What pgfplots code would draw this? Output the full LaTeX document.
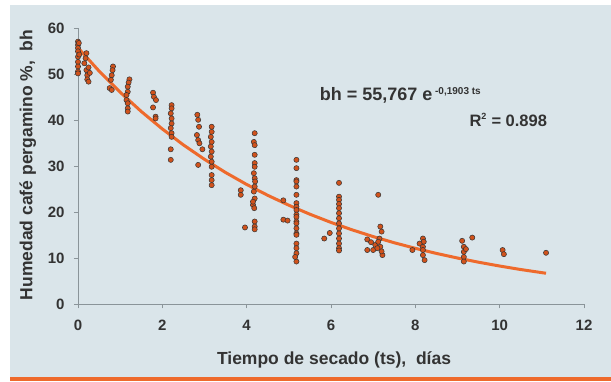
\documentclass[border=0pt]{standalone}
\usepackage{pgfplots}
\pgfplotsset{compat=1.18}
\usepackage{fontspec}
\setmainfont{Liberation Sans}
\definecolor{bgc}{HTML}{DAE5EA}
\definecolor{fitc}{HTML}{EE6A2C}
\definecolor{markc}{HTML}{D0521C}
\definecolor{txt}{HTML}{333333}
\definecolor{axc}{HTML}{8A9499}
\begin{document}
\begin{tikzpicture}[x=1pt,y=1pt]
\fill[white] (0,0) rectangle (611,381);
\fill[bgc] (10,4) rectangle (611,376);
\fill[fitc] (10,0) rectangle (611,4);
\begin{axis}[
  at={(78pt,76.7pt)}, anchor=origin,
  scale only axis, width=506pt, height=276pt,
  xmin=0, xmax=12, ymin=0, ymax=60,
  xtick={0,2,...,12}, ytick={0,10,...,60},
  axis lines*=left,
  axis line style={axc, line width=0.8pt},
  tick style={axc, line width=0.8pt},
  tick align=outside, major tick length=4pt,
  clip=false,
  /pgf/number format/assume math mode=true,
  ticklabel style={font=\fontsize{15}{17}\selectfont\bfseries, text=txt},
  xticklabel style={yshift=-8pt},
  yticklabel style={xshift=-6pt},
  xlabel={Tiempo de secado (ts),\ \ días},
  ylabel={Humedad café pergamino \%,\ \ bh},
  label style={font=\fontsize{17.5}{20}\selectfont\bfseries, text=txt},
  xlabel style={at={(rel axis cs:0.506,-0.202)}, anchor=center},
  ylabel style={at={(rel axis cs:-0.099,0.505)}, anchor=center},
]
\addplot[only marks, mark=*, mark size=2.6pt, mark options={fill=markc, draw=black!80, line width=0.5pt}] coordinates {
(0,57.1)(0,56.4)(0,55.7)(0,55)(0,53.8)(0,52.7)(0,51.7)(0,50.6)(0,50.2)(0.02,56.8)(0.03,54.3)
(0.2,54.6)(0.15,52.4)(0.2,50.9)(0.22,49.8)(0.22,48.9)(0.25,48.4)(0.18,53.5)(0.25,51.5)(0.28,50.3)
(0.83,51.7)(0.82,50.9)(0.8,49.8)(0.78,48.8)(0.75,47)(0.8,46.6)
(1.22,48.9)(1.2,48.2)(1.18,47.3)(1.18,46.2)(1.15,45.5)(1.15,44.4)(1.18,43.7)(1.18,42.6)(1.18,41.9)
(1.78,46)(1.8,45.1)(1.85,44.4)(1.78,42.8)(1.84,40.8)(1.84,40.4)
(2.22,43.3)(2.22,42.6)(2.2,41.5)(2.22,40.4)(2.22,39.3)(2.2,38.3)(2.22,37.2)(2.22,36.4)(2.2,33.7)(2.2,31.4)
(2.83,41.2)(2.85,40.1)(2.87,38.6)(2.82,36.8)(2.85,35.7)(2.88,35)(2.85,30.3)(2.95,33.7)
(3.17,38.6)(3.17,37.5)(3.15,36.4)(3.17,35.3)(3.15,34.3)(3.17,33.2)(3.15,32.1)(3.17,31)(3.17,29.9)(3.17,28.1)(3.17,27)(3.17,25.9)
(3.86,24.8)(3.86,23.8)(3.96,16.7)
(4.19,37.2)(4.17,35.3)(4.19,34.6)(4.19,32.5)(4.19,30.7)(4.19,29.9)(4.17,28.5)(4.19,27.4)(4.2,26.7)(4.19,25.6)(4.17,24.5)(4.19,23)(4.15,21.6)(4.18,20.9)(4.19,18)(4.19,16.9)(4.19,16.3)(4.15,22.3)
(4.87,22.6)(4.87,18.4)(4.97,18.2)
(5.18,31.4)(5.18,29.6)(5.18,27)(5.18,26.7)(5.18,25.6)(5.18,23.8)(5.18,22)(5.18,21.2)(5.18,20.5)(5.18,19.5)(5.18,19)(5.18,18)(5.18,17.6)(5.18,16.5)(5.18,15.4)(5.18,15.1)(5.18,13.2)(5.18,12.2)(5.18,11.1)(5.18,9.3)(5.15,10.3)
(5.84,14.3)(5.97,15.5)
(6.19,26.4)(6.19,23.4)(6.19,22.7)(6.19,21.8)(6.19,20.9)(6.19,19.8)(6.19,18.7)(6.19,17.6)(6.19,16.5)(6.19,15.4)(6.19,14.3)(6.19,13.2)(6.19,12.2)(6.19,11.7)
(6.86,14.1)(6.86,11.8)(7.0,11.8)(7.05,12.9)(6.95,13.5)
(7.12,23.8)(7.17,16.9)(7.2,15.8)(7.15,14.3)(7.12,13.6)(7.17,12.5)(7.22,10.7)(7.1,12.2)(7.2,11.5)
(7.93,11.8)(8.18,14.3)(8.2,13.6)(8.1,13.2)(8.18,12.5)(8.18,11.8)(8.18,10.7)(8.22,9.6)
(9.11,13.8)(9.35,14.5)(9.15,12.5)(9.15,11.4)(9.15,10.3)(9.15,9.3)(9.2,12)
(10.07,11.8)(10.1,10.9)
(11.1,11.2)
};
\addplot[fitc, line width=3pt] coordinates {
(0,55.77)(0.5,50.70)(1,46.10)(1.5,41.92)(2,38.12)(2.5,34.65)(3,31.51)(3.5,28.65)(4,26.05)(4.5,23.69)(5,21.54)(5.5,19.58)(6,17.80)(6.5,16.19)(7,14.72)(7.5,13.38)(8,12.17)(8.5,11.06)(9,10.06)(9.5,9.15)(10,8.32)(10.5,7.56)(11,6.88)(11.1,6.75)
};
\node[anchor=west, font=\fontsize{18}{20}\selectfont\bfseries, text=txt, inner sep=0pt] at (axis cs:5.73,45.4) {bh = 55,767 e\textsuperscript{\fontsize{10}{11}\selectfont\ -0,1903 ts}};
\node[anchor=west, font=\fontsize{16.5}{19}\selectfont\bfseries, text=txt, inner sep=0pt] at (axis cs:9.28,40.1) {R\textsuperscript{\fontsize{9}{10}\selectfont 2} = 0.898};
\end{axis}
\end{tikzpicture}
\end{document}
